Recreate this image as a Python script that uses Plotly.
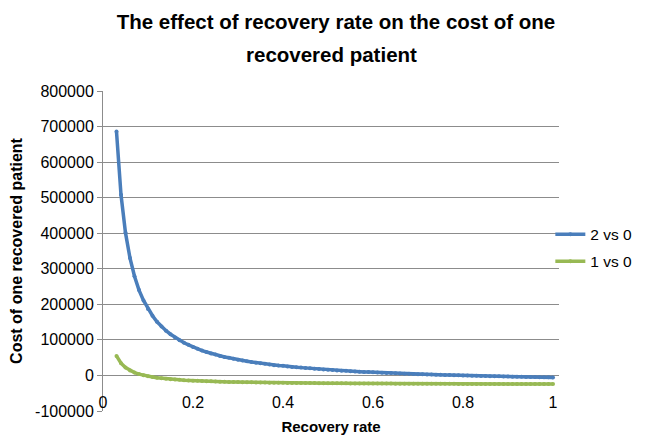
import plotly.graph_objects as go

recovery_rate = [0.03, 0.04, 0.05, 0.06, 0.07, 0.08, 0.09, 0.10, 0.11, 0.12,
                 0.13, 0.14, 0.15, 0.16, 0.17, 0.18, 0.19, 0.20, 0.21, 0.22,
                 0.23, 0.24, 0.25, 0.26, 0.27, 0.28, 0.29, 0.30, 0.31, 0.32,
                 0.33, 0.34, 0.35, 0.36, 0.37, 0.38, 0.39, 0.40, 0.41, 0.42,
                 0.43, 0.44, 0.45, 0.46, 0.47, 0.48, 0.49, 0.50, 0.51, 0.52,
                 0.53, 0.54, 0.55, 0.56, 0.57, 0.58, 0.59, 0.60, 0.61, 0.62,
                 0.63, 0.64, 0.65, 0.66, 0.67, 0.68, 0.69, 0.70, 0.71, 0.72,
                 0.73, 0.74, 0.75, 0.76, 0.77, 0.78, 0.79, 0.80, 0.81, 0.82,
                 0.83, 0.84, 0.85, 0.86, 0.87, 0.88, 0.89, 0.90, 0.91, 0.92,
                 0.93, 0.94, 0.95, 0.96, 0.97, 0.98, 0.99, 1.00]

cost_2_vs_0 = [686000, 508000, 401000, 330000, 279000, 240000, 211000, 187000, 168000, 151000,
               138000, 126000, 116000, 107000, 99000, 92000, 86000, 80000, 75000, 70000,
               66000, 62000, 59000, 55000, 52000, 50000, 47000, 44000, 42000, 40000,
               38000, 36000, 34000, 33000, 31000, 29000, 28000, 27000, 25000, 24000,
               23000, 22000, 21000, 20000, 19000, 18000, 17000, 16000, 15000, 14000,
               13500, 13000, 12000, 11000, 10700, 10000, 9400, 8800, 8200, 7600,
               7100, 6600, 6000, 5500, 5100, 4600, 4100, 3700, 3300, 2800,
               2400, 2000, 1700, 1300, 900, 600, 200, -100, -500, -800,
               -1100, -1400, -1700, -2000, -2300, -2600, -2800, -3100, -3400, -3600,
               -3900, -4100, -4300, -4600, -4800, -5000, -5300, -5500]

cost_1_vs_0 = [55000, 34500, 22000, 14000, 8200, 3800, 400, -2300, -4500, -6400,
               -8000, -9300, -10500, -11500, -12400, -13200, -13900, -14600, -15200, -15700,
               -16200, -16600, -17000, -17400, -17800, -18100, -18400, -18700, -18900, -19200,
               -19400, -19600, -19800, -20000, -20200, -20400, -20600, -20700, -20900, -21000,
               -21100, -21300, -21400, -21500, -21600, -21700, -21800, -21900, -22000, -22100,
               -22200, -22300, -22400, -22500, -22600, -22600, -22700, -22800, -22800, -22900,
               -23000, -23000, -23100, -23100, -23200, -23200, -23300, -23400, -23400, -23400,
               -23500, -23500, -23600, -23600, -23700, -23700, -23800, -23800, -23800, -23900,
               -23900, -23900, -24000, -24000, -24000, -24100, -24100, -24100, -24200, -24200,
               -24200, -24200, -24300, -24300, -24300, -24400, -24400, -24400]

series_names = ["2 vs 0", "1 vs 0"]
series_colors = ["#4A7EBB", "#98B954"]

x_tick_vals = [0, 0.2, 0.4, 0.6, 0.8, 1]
x_tick_text = ["0", "0.2", "0.4", "0.6", "0.8", "1"]
y_tick_vals = [-100000, 0, 100000, 200000, 300000, 400000, 500000, 600000, 700000, 800000]
y_tick_text = ["-100000", "0", "100000", "200000", "300000", "400000",
               "500000", "600000", "700000", "800000"]

FONT = "Liberation Sans, Arial, sans-serif"
GRID = "#8C8C8C"

# the page body has an 8px default margin, so the figure is 8px smaller
W, H = 656, 430
ML, MT, MR, MB = 95, 83, 105, 27

fig = go.Figure()
for name, ys, col in zip(series_names, [cost_2_vs_0, cost_1_vs_0], series_colors):
    fig.add_trace(go.Scatter(
        x=recovery_rate, y=ys, name=name, mode="lines+markers",
        line=dict(color=col, width=3.5),
        marker=dict(color=col, size=4),
        legendgroup=name,
    ))

fig.update_layout(
    width=W, height=H,
    margin=dict(l=ML, r=MR, t=MT, b=MB),
    paper_bgcolor="white", plot_bgcolor="white",
    font=dict(family=FONT, size=16, color="black"),
    title=dict(text="<b>The effect of recovery rate on the cost of one</b>",
               x=0.5, xanchor="center", y=1 - 14 / H, yanchor="middle",
               font=dict(size=20.5, family=FONT, color="black")),
    showlegend=True,
    legend=dict(x=0.981, xanchor="left", y=0.509, yanchor="middle",
                font=dict(size=15.5, family=FONT), tracegroupgap=4,
                traceorder="grouped", bgcolor="rgba(0,0,0,0)"),
    xaxis=dict(range=[0, 1.0133], anchor="free", position=0.063,
               tickmode="array", tickvals=x_tick_vals, ticktext=x_tick_text,
               showgrid=False, zeroline=False, showline=False, ticks="",
               automargin=False,
               tickfont=dict(size=16, family=FONT),
               title=dict(text="<b>Recovery rate</b>", font=dict(size=15, family=FONT), standoff=11)),
    yaxis=dict(range=[-100000, 800000], tickmode="array",
               tickvals=y_tick_vals, ticktext=y_tick_text,
               showgrid=True, gridcolor=GRID, gridwidth=1,
               zeroline=False, showline=True, linecolor=GRID, linewidth=1,
               ticks="outside", ticklen=5, tickcolor=GRID,
               automargin=False,
               tickfont=dict(size=16, family=FONT),
               title=dict(text="<b>Cost of one recovered patient</b>", font=dict(size=16, family=FONT), standoff=8)),
)

fig.add_annotation(text="<b>recovered patient</b>", xref="paper", yref="paper",
                   x=0.5, y=1 + (MT - 47) / (H - MT - MB), xanchor="center", yanchor="middle",
                   showarrow=False, font=dict(size=20.5, family=FONT, color="black"))

fig.write_html("out.html")
